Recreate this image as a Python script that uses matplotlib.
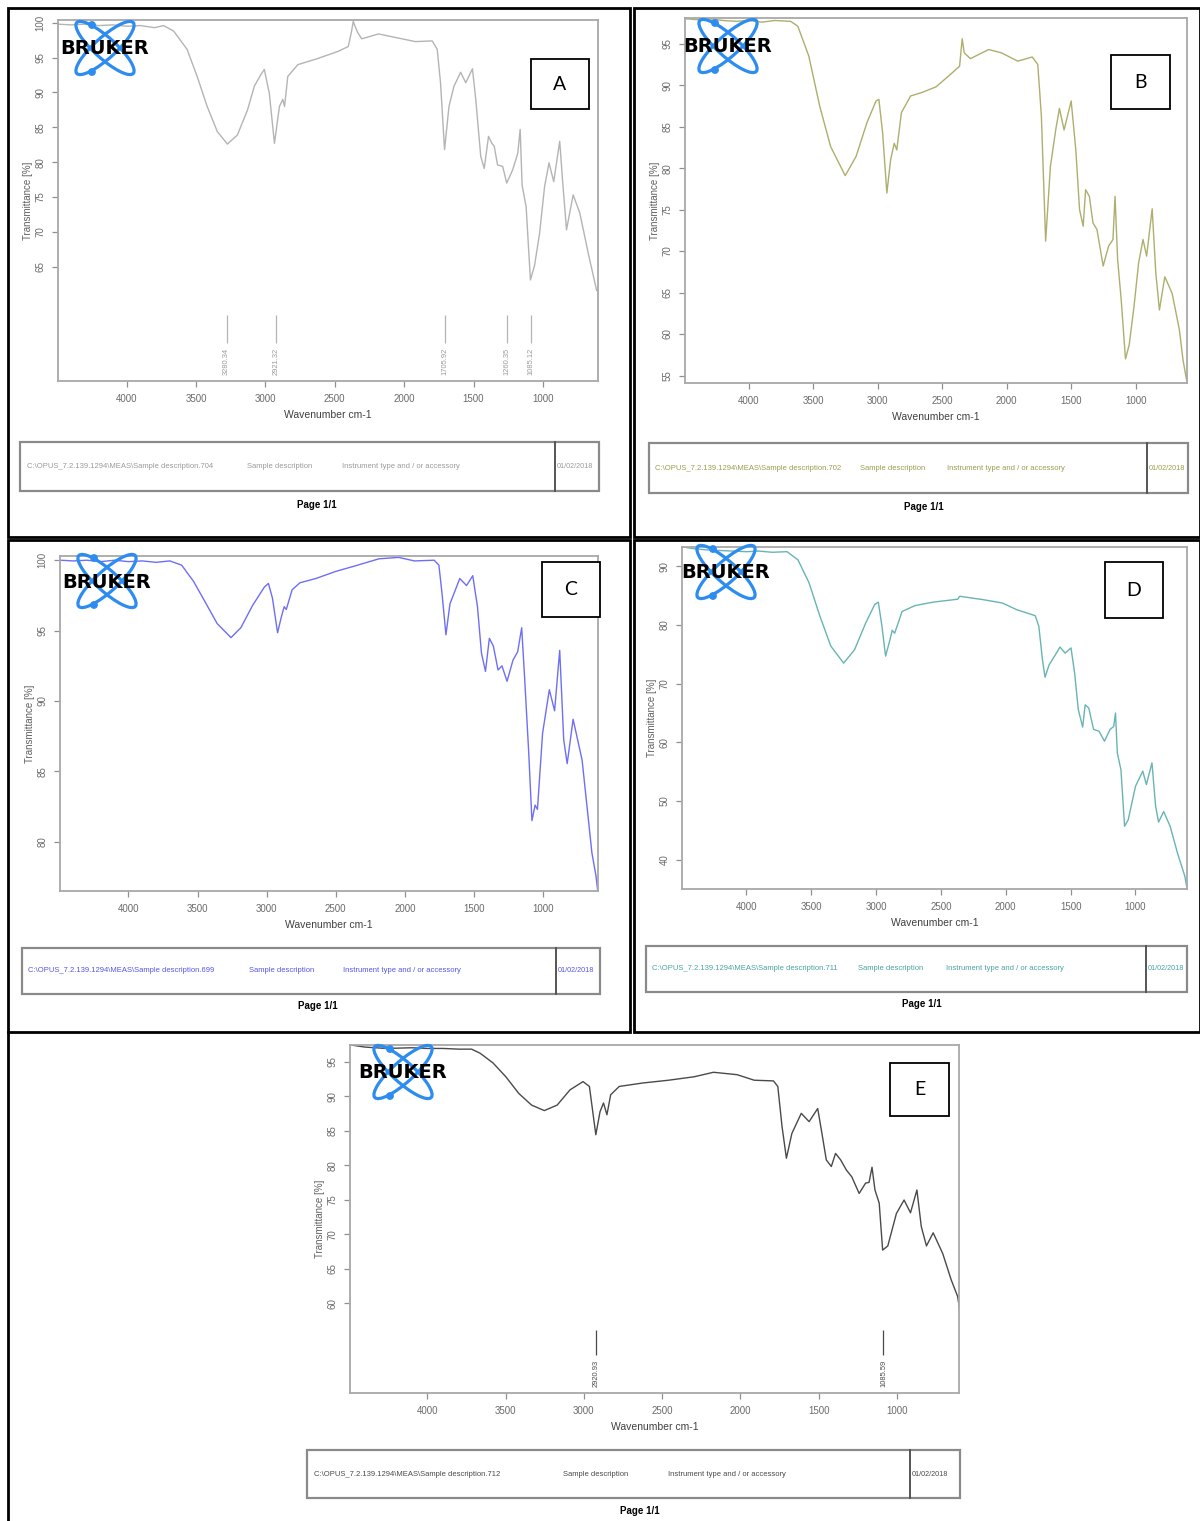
import matplotlib
matplotlib.use("Agg")
import matplotlib.pyplot as plt
from matplotlib.patches import Rectangle, Ellipse, Circle

# ---------------- spectra: wavenumber (cm-1) / transmittance (%) ----------------
wn_a = [4495, 4400, 4300, 4200, 4100, 4000, 3900, 3800, 3734, 3661, 3565, 3492, 3420, 3347,
        3274, 3202, 3129, 3080, 3032, 3008, 2972, 2935, 2899, 2875, 2862, 2839, 2766, 2634,
        2476, 2403, 2379, 2367, 2350, 2335, 2306, 2185, 2040, 1919, 1798, 1762, 1738, 1709,
        1677, 1641, 1593, 1556, 1508, 1484, 1448, 1423, 1392, 1368, 1351, 1327, 1290, 1261,
        1218, 1181, 1164, 1150, 1121, 1090, 1060, 1024, 988, 956, 922, 879, 855, 830, 782,
        734, 673, 613]
tr_a = [99.8, 99.7, 99.8, 99.6, 99.7, 99.5, 99.6, 99.3, 99.6, 98.8, 96.2, 92.3, 88.0, 84.4,
        82.6, 83.9, 87.5, 90.9, 92.6, 93.3, 89.9, 82.7, 88.0, 89.0, 88.0, 92.3, 94.0, 94.8,
        95.9, 96.6, 98.8, 100.2, 99.3, 98.6, 97.7, 98.4, 97.8, 97.3, 97.4, 96.2, 91.4, 81.8,
        88.0, 90.9, 92.9, 91.4, 93.4, 89.0, 80.8, 79.1, 83.7, 82.7, 82.3, 79.6, 79.4, 77.0,
        78.9, 81.3, 84.7, 76.7, 73.6, 63.1, 65.2, 69.8, 76.5, 79.9, 77.2, 83.0, 76.5, 70.3,
        75.3, 72.7, 66.9, 61.6]
peaks_a = [3280.34, 2921.32, 1705.92, 1260.35, 1085.12]

wn_b = [4487, 4400, 4300, 4200, 4100, 4000, 3900, 3800, 3676, 3620, 3535, 3451, 3366, 3253,
        3169, 3084, 3014, 2992, 2963, 2930, 2901, 2873, 2853, 2817, 2746, 2662, 2549, 2437,
        2366, 2346, 2330, 2282, 2141, 2042, 1915, 1803, 1760, 1732, 1699, 1662, 1620, 1592,
        1556, 1501, 1465, 1436, 1408, 1389, 1360, 1332, 1301, 1253, 1211, 1177, 1161, 1141,
        1113, 1080, 1051, 1014, 978, 944, 916, 873, 845, 817, 775, 718, 662, 634, 607]
tr_b = [98.0, 97.9, 98.0, 97.8, 97.7, 97.8, 97.6, 97.8, 97.7, 97.1, 93.5, 87.5, 82.6, 79.1,
        81.4, 85.5, 88.1, 88.3, 84.3, 77.0, 81.0, 83.0, 82.2, 86.7, 88.7, 89.1, 89.8, 91.3,
        92.3, 95.6, 93.9, 93.2, 94.3, 93.9, 92.9, 93.4, 92.5, 86.3, 71.2, 80.2, 84.7, 87.2,
        84.6, 88.1, 82.2, 75.0, 73.0, 77.4, 76.6, 73.4, 72.6, 68.2, 70.6, 71.4, 76.6, 69.0,
        64.1, 57.0, 58.7, 63.3, 68.6, 71.4, 69.4, 75.1, 67.4, 62.9, 66.9, 64.9, 60.5, 56.9,
        54.5]

wn_c = [4491, 4400, 4300, 4200, 4100, 4000, 3900, 3800, 3700, 3615, 3529, 3443, 3358, 3258,
        3187, 3101, 3016, 2987, 2958, 2921, 2893, 2873, 2858, 2816, 2759, 2644, 2502, 2359,
        2188, 2045, 1931, 1788, 1754, 1731, 1703, 1674, 1603, 1554, 1509, 1475, 1446, 1417,
        1389, 1360, 1326, 1298, 1261, 1218, 1184, 1155, 1133, 1104, 1081, 1058, 1041, 1004,
        955, 917, 880, 851, 826, 783, 718, 647, 618, 606]
tr_c = [100.0, 99.95, 100.0, 99.9, 100.0, 99.9, 99.95, 99.85, 99.95, 99.65, 98.5, 97.0, 95.5,
        94.5, 95.2, 96.8, 98.1, 98.35, 97.3, 94.85, 96.0, 96.7, 96.5, 97.9, 98.4, 98.7, 99.2,
        99.6, 100.1, 100.2, 99.95, 100.0, 99.65, 97.6, 94.7, 96.9, 98.7, 98.2, 98.9, 96.7,
        93.4, 92.1, 94.45, 93.9, 92.2, 92.5, 91.4, 92.9, 93.5, 95.2, 91.5, 86.3, 81.5, 82.6,
        82.3, 87.7, 90.8, 89.3, 93.6, 87.25, 85.55, 88.7, 85.8, 79.2, 77.6, 76.6]

wn_d = [4487, 4400, 4300, 4200, 4100, 4000, 3900, 3800, 3685, 3601, 3516, 3432, 3348, 3249,
        3165, 3080, 3010, 2982, 2954, 2926, 2892, 2875, 2856, 2799, 2701, 2560, 2370, 2355,
        2167, 2026, 1914, 1773, 1745, 1717, 1697, 1666, 1618, 1582, 1542, 1497, 1469, 1441,
        1407, 1388, 1360, 1323, 1281, 1239, 1196, 1168, 1154, 1140, 1112, 1084, 1056, 1000,
        944, 916, 873, 845, 822, 783, 733, 676, 620, 606]
tr_d = [93.3, 93.0, 92.8, 92.7, 92.6, 92.5, 92.6, 92.4, 92.5, 91.1, 87.2, 81.5, 76.4, 73.5,
        75.8, 80.3, 83.5, 83.9, 79.8, 74.7, 77.5, 79.1, 78.6, 82.3, 83.3, 83.9, 84.4, 84.9,
        84.3, 83.75, 82.6, 81.6, 79.8, 74.1, 71.1, 73.2, 74.9, 76.25, 75.2, 76.1, 71.8, 65.6,
        62.6, 66.4, 65.85, 62.2, 61.9, 60.2, 62.2, 62.7, 65.0, 58.2, 55.3, 45.7, 46.8, 52.5,
        55.1, 52.8, 56.5, 49.1, 46.4, 48.2, 45.7, 41.1, 37.2, 35.5]

wn_e = [4490, 4400, 4265, 4100, 4000, 3900, 3800, 3718, 3663, 3581, 3499, 3417, 3335, 3253,
        3171, 3089, 3006, 2965, 2924, 2897, 2875, 2853, 2829, 2774, 2623, 2459, 2295, 2172,
        2021, 1912, 1789, 1761, 1734, 1706, 1671, 1611, 1561, 1506, 1479, 1451, 1419, 1392,
        1359, 1323, 1288, 1241, 1200, 1178, 1159, 1140, 1113, 1091, 1058, 1003, 954, 913, 872,
        844, 811, 768, 707, 653, 612, 598]
tr_e = [97.4, 97.1, 96.9, 97.0, 96.9, 96.9, 96.8, 96.8, 96.2, 94.8, 92.8, 90.4, 88.7, 87.9,
        88.7, 90.9, 92.1, 91.4, 84.4, 87.75, 89.0, 87.3, 90.2, 91.4, 91.9, 92.3, 92.8, 93.45,
        93.1, 92.3, 92.2, 91.4, 85.6, 81.0, 84.6, 87.5, 86.3, 88.2, 84.6, 80.75, 79.8, 81.7,
        80.75, 79.3, 78.3, 75.9, 77.4, 77.5, 79.7, 76.4, 74.5, 67.7, 68.3, 73.0, 74.95, 73.1,
        76.4, 71.1, 68.3, 70.2, 67.2, 63.4, 61.0, 59.0]
peaks_e = [2920.93, 1085.59]

panel_letters = ["A", "B", "C", "D", "E"]
sample_ids = ["704", "702", "699", "711", "712"]
x_ticks = [4000, 3500, 3000, 2500, 2000, 1500, 1000]
y_ticks_a = [65, 70, 75, 80, 85, 90, 95, 100]
y_ticks_b = [55, 60, 65, 70, 75, 80, 85, 90, 95]
y_ticks_c = [80, 85, 90, 95, 100]
y_ticks_d = [40, 50, 60, 70, 80, 90]
y_ticks_e = [60, 65, 70, 75, 80, 85, 90, 95]
date_text = "01/02/2018"

# ---------------- figure / page layout (pixel coordinates) ----------------
FW, FH = 1200, 1521
fig = plt.figure(figsize=(FW / 100, FH / 100), dpi=100)
fig.patch.set_facecolor("white")

TICK_FONT = "Liberation Sans"


def px_axes(left, top, right, bottom, z=1):
    return fig.add_axes([left / FW, 1 - bottom / FH, (right - left) / FW, (bottom - top) / FH],
                        zorder=z)


page = px_axes(0, 0, FW, FH, z=5)
page.set_xlim(0, FW)
page.set_ylim(FH, 0)
page.axis("off")
page.patch.set_alpha(0)

panels = [
    dict(wn=wn_a, tr=tr_a, color="#b4b4b4", txt="#9a9a9a", box=(58, 20, 598, 381),
         ylim=(48.6, 100.4), yt=y_ticks_a, peaks=peaks_a, peak_line=(54.0, 58.0), peak_txt=53.4,
         logo=(105, 48), tag=(531, 59, 589, 109), foot=(20, 442, 599, 491, 555),
         foot_x=(27, 247, 342), page=(317, 505)),
    dict(wn=wn_b, tr=tr_b, color="#aeae6e", txt="#9c9c4e", box=(685, 18, 1187, 383),
         ylim=(54.1, 98.1), yt=y_ticks_b, peaks=[], logo=(728, 46), tag=(1111, 55, 1170, 109),
         foot=(649, 443, 1188, 493, 1147), foot_x=(655, 860, 947), page=(924, 507)),
    dict(wn=wn_c, tr=tr_c, color="#6e6ef6", txt="#5555ee", box=(60, 556, 598, 891),
         ylim=(76.5, 100.3), yt=y_ticks_c, peaks=[], logo=(107, 581), tag=(542, 562, 600, 617),
         foot=(22, 948, 600, 994, 556), foot_x=(28, 249, 343), page=(318, 1006)),
    dict(wn=wn_d, tr=tr_d, color="#68b4b4", txt="#4aa3a3", box=(682, 547, 1187, 889),
         ylim=(35.0, 93.3), yt=y_ticks_d, peaks=[], logo=(726, 572), tag=(1105, 562, 1163, 618),
         foot=(646, 946, 1187, 992, 1146), foot_x=(652, 858, 946), page=(922, 1004)),
    dict(wn=wn_e, tr=tr_e, color="#4a4a4a", txt="#4a4a4a", box=(350, 1045, 959, 1393),
         ylim=(47.0, 97.4), yt=y_ticks_e, peaks=peaks_e, peak_line=(52.5, 56.1), peak_txt=51.8,
         logo=(403, 1072), tag=(890, 1063, 949, 1116), foot=(307, 1450, 960, 1498, 910),
         foot_x=(314, 563, 668), page=(640, 1511)),
]


def draw_logo(cx, cy):
    blue = "#2d8cf0"
    for ang in (42, -42):
        page.add_patch(Ellipse((cx, cy), 76, 21, angle=ang, fill=False, ec=blue, lw=2.3))
    page.add_patch(Circle((cx - 13, cy - 23), 3.2, color=blue))
    page.add_patch(Circle((cx - 13, cy + 24), 3.2, color=blue))
    page.text(cx, cy + 1, "BRUKER", ha="center", va="center", fontsize=14,
              fontweight="heavy", family="DejaVu Sans", color="black")


for letter, sid, p in zip(panel_letters, sample_ids, panels):
    l, t, r, b = p["box"]
    ax = px_axes(l, t, r, b, z=1)
    ax.plot(p["wn"], p["tr"], color=p["color"], lw=1.0)
    ax.set_xlim(4495, 603)
    ax.set_ylim(*p["ylim"])
    ax.set_xticks(x_ticks)
    ax.set_yticks(p["yt"])
    for s in ax.spines.values():
        s.set_color("#a8a8a8")
        s.set_linewidth(1.3)
    ax.tick_params(axis="both", direction="out", length=4, width=0.9, color="#909090",
                   labelsize=7, labelcolor="#6a6a6a", pad=5)
    ax.tick_params(axis="y", labelrotation=90)
    for lab in ax.get_xticklabels() + ax.get_yticklabels():
        lab.set_family(TICK_FONT)
    for lab in ax.get_yticklabels():
        lab.set_va("center")
    ax.set_xlabel("Wavenumber cm-1", fontsize=7.5, color="#404040", family=TICK_FONT,
                  labelpad=5)
    ax.set_ylabel("Transmittance [%]", fontsize=7, color="#606060", family=TICK_FONT,
                  labelpad=2)

    # annotated peak positions
    if p["peaks"]:
        y0, y1 = p["peak_line"]
        ax.vlines(p["peaks"], y0, y1, color=p["color"], lw=0.9)
        for pk in p["peaks"]:
            ax.text(pk, p["peak_txt"], f"{pk:.2f}", rotation=90, ha="center", va="top",
                    fontsize=5.4, color=p["txt"], family=TICK_FONT)

    draw_logo(*p["logo"])

    # panel letter
    tl, tt, tr_, tb = p["tag"]
    page.add_patch(Rectangle((tl, tt), tr_ - tl, tb - tt, fc="white", ec="black", lw=1.3))
    page.text((tl + tr_) / 2, (tt + tb) / 2, letter, ha="center", va="center", fontsize=14,
              family="Lato", color="black")

    # OPUS footer strip
    fl, ft, fr, fb, fd = p["foot"]
    page.add_patch(Rectangle((fl, ft), fr - fl, fb - ft, fill=False, ec="#8a8a8a", lw=1.6))
    page.plot([fd, fd], [ft, fb], color="#555555", lw=1.4)
    ym = (ft + fb) / 2
    x1, x2, x3 = p["foot_x"]
    kw = dict(va="center", ha="left", fontsize=5.5, color=p["txt"], family=TICK_FONT)
    page.text(x1, ym, "C:\\OPUS_7.2.139.1294\\MEAS\\Sample description." + sid, **kw)
    page.text(x2, ym, "Sample description", **kw)
    page.text(x3, ym, "Instrument type and / or accessory", **kw)
    page.text(fd + 2, ym, date_text, **dict(kw, fontsize=5.2))
    page.text(*p["page"], "Page 1/1", ha="center", va="center", fontsize=7,
              fontweight="bold", family=TICK_FONT, color="black")

# page frames
frame_kw = dict(fill=False, ec="black", lw=2.0)
page.add_patch(Rectangle((8, 8), 622, 529, **frame_kw))
page.add_patch(Rectangle((634, 8), 566, 529, **frame_kw))
page.add_patch(Rectangle((8, 540), 622, 492, **frame_kw))
page.add_patch(Rectangle((634, 540), 566, 492, **frame_kw))
page.plot([8, 8], [1032, FH], color="black", lw=2.0)

fig.savefig("out.png", dpi=100)
